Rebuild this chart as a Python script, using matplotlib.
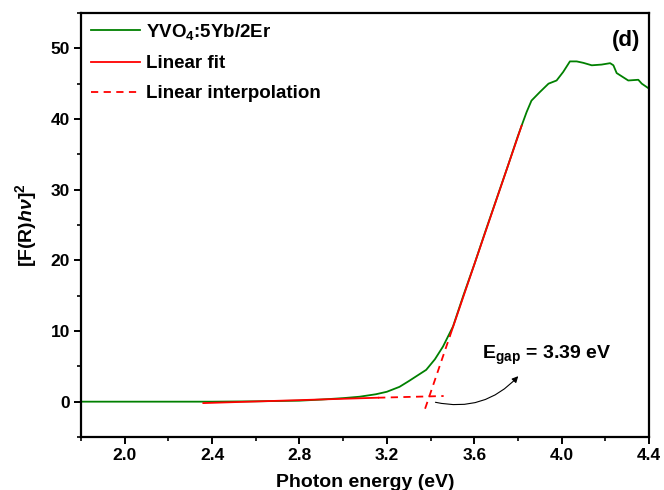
import matplotlib
matplotlib.use("Agg")
import matplotlib.pyplot as plt
from matplotlib.ticker import MultipleLocator

plt.rcParams['font.family'] = ['Liberation Sans', 'DejaVu Sans']
plt.rcParams['mathtext.fontset'] = 'custom'
plt.rcParams['mathtext.rm'] = 'Liberation Sans:bold'
plt.rcParams['mathtext.it'] = 'Liberation Sans:bold:italic'
plt.rcParams['mathtext.bf'] = 'Liberation Sans:bold'

# Measured spectrum
energy = [1.8, 2.0, 2.2, 2.4, 2.6, 2.8, 2.9, 3.0, 3.075, 3.15, 3.2, 3.258, 3.3,
          3.35, 3.38, 3.42, 3.457, 3.503, 3.55, 3.6, 3.65, 3.7, 3.75, 3.8, 3.817,
          3.84, 3.862, 3.90, 3.94, 3.977, 4.007, 4.038, 4.069, 4.099, 4.138,
          4.183, 4.222, 4.237, 4.252, 4.305, 4.351, 4.367, 4.4]
signal = [0.0, 0.0, 0.0, 0.0, 0.05, 0.14, 0.3, 0.5, 0.7, 1.05, 1.4, 2.1, 2.9,
          3.9, 4.5, 6.0, 7.8, 10.65, 15.0, 19.4, 24.0, 28.5, 33.0, 37.6, 39.06,
          41.0, 42.6, 43.8, 45.0, 45.45, 46.65, 48.15, 48.15, 47.95, 47.6,
          47.7, 47.9, 47.6, 46.5, 45.45, 45.55, 45.0, 44.3]

# Linear fits (solid) and their extrapolations (dashed)
steep_fit_x = [3.49, 3.817]
steep_fit_y = [9.4, 39.06]
steep_interp_x = [3.375, 3.49]
steep_interp_y = [-1.0, 9.4]
base_fit_x = [2.36, 3.16]
base_fit_y = [-0.2, 0.56]
base_interp_x = [3.16, 3.46]
base_interp_y = [0.56, 0.8]

egap_label = r'E$_{\mathbf{gap}}$ = 3.39 eV'
arrow_from = (3.41, 0.0)
arrow_to = (3.81, 3.9)

fig = plt.figure(figsize=(6.64, 4.90), dpi=100)
ax = fig.add_axes([81/664, 1-437/490, (649-81)/664, (437-13)/490])

ln_g, = ax.plot(energy, signal, color='#008000', lw=1.3, label='YVO$_4$:5Yb/2Er')
ln_f, = ax.plot(steep_fit_x, steep_fit_y, color='red', lw=1.3, label='Linear fit')
ax.plot(base_fit_x, base_fit_y, color='red', lw=1.3)
ln_d, = ax.plot(steep_interp_x, steep_interp_y, color='red', lw=1.3,
                dashes=(4, 3), label='Linear interpolation')
ax.plot(base_interp_x, base_interp_y, color='red', lw=1.3, dashes=(4, 3))

ax.set_xlim(1.8, 4.4)
ax.set_ylim(-5, 55)
ax.xaxis.set_major_locator(MultipleLocator(0.4))
ax.xaxis.set_minor_locator(MultipleLocator(0.2))
ax.yaxis.set_major_locator(MultipleLocator(10))
ax.yaxis.set_minor_locator(MultipleLocator(5))
ax.xaxis.set_major_formatter(plt.FuncFormatter(lambda v, p: f'{v:.1f}'))

for s in ax.spines.values():
    s.set_linewidth(1.6)
ax.tick_params(which='major', direction='out', length=5, width=1.4, labelsize=12.5, pad=3)
ax.tick_params(which='minor', direction='out', length=3, width=1.2)
for lab in ax.get_xticklabels() + ax.get_yticklabels():
    lab.set_fontweight('bold')

ax.set_xlabel('Photon energy (eV)', fontsize=14, fontweight='bold', labelpad=8)
ax.set_ylabel(r'[F(R)$\mathit{h\nu}$]$^2$', fontsize=14, fontweight='bold', labelpad=8)

leg = ax.legend(handles=[ln_g, ln_f, ln_d], loc='upper left', frameon=False,
                prop={'size': 13.5, 'weight': 'bold'}, handlelength=2.6,
                handletextpad=0.3, labelspacing=0.7,
                bbox_to_anchor=(-0.005, 1.01), borderaxespad=0.3)

ax.text(0.985, 0.935, '(d)', transform=ax.transAxes, ha='right', va='center',
        fontsize=16, fontweight='bold')
ax.text(3.635, 6.6, egap_label, fontsize=14, fontweight='bold', ha='left', va='center')
ax.annotate('', xy=arrow_to, xytext=arrow_from,
            arrowprops=dict(arrowstyle='-|>', color='black', lw=0.8,
                            mutation_scale=9,
                            connectionstyle='arc3,rad=0.3'))

fig.savefig('out.png', dpi=100)
